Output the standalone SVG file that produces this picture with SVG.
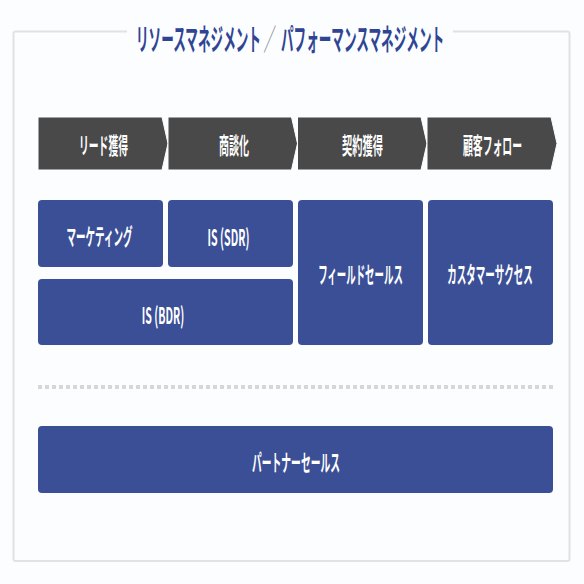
<svg xmlns="http://www.w3.org/2000/svg" width="584" height="584" viewBox="0 0 584 584">
  <style>
    .bg { fill: #fcfdff; }
    .frame { fill: none; stroke: #e1e2e5; stroke-width: 2; }
    .title { font-family: "Noto Sans CJK JP", "Noto Sans", sans-serif; font-weight: 700; font-size: 30px; fill: #2f4593; dominant-baseline: central; }
    .slash { font-weight: 400; fill: #8a8a8a; }
    .chev { fill: #494949; stroke: #fcfdff; stroke-width: 1; }
    .box { fill: #3b4f96; }
    .lbl { font-family: "Noto Sans CJK JP", "Noto Sans", sans-serif; font-weight: 700; font-size: 23px; fill: #ffffff; text-anchor: middle; dominant-baseline: central; }
    .sep { stroke: #d6d7da; stroke-width: 4; stroke-dasharray: 4 3; fill: none; }
  </style>
  <rect class="bg" x="0" y="0" width="584" height="584"/>

  <g id="frame">
    <path class="frame" d="M127,31.5 H15.5 Q13.5,31.5 13.5,33.5 V559 Q13.5,561 15.5,561 H567.5 Q569.5,561 569.5,559 V33.5 Q569.5,31.5 567.5,31.5 H453"/>
    <text class="title" transform="translate(0,37) scale(0.42,1)" y="0"><tspan x="323.8">リソースマネジメント</tspan><tspan class="slash" x="627.4">／</tspan><tspan x="669">パフォーマンスマネジメント</tspan></text>
  </g>

  <g id="stage-lead">
    <path class="chev" d="M38,117 H162 L168,143.5 L162,170 H38 Z"/>
    <text class="lbl" transform="translate(103.5,144) scale(0.426,1)">リード獲得</text>
  </g>
  <g id="stage-deal">
    <path class="chev" d="M168,117 H291.5 L297.5,143.5 L291.5,170 H168 Z"/>
    <text class="lbl" transform="translate(234,144) scale(0.435,1)">商談化</text>
  </g>
  <g id="stage-contract">
    <path class="chev" d="M297.5,117 H421 L427,143.5 L421,170 H297.5 Z"/>
    <text class="lbl" transform="translate(362.5,144) scale(0.446,1)">契約獲得</text>
  </g>
  <g id="stage-follow">
    <path class="chev" d="M427,117 H551 L557,143.5 L551,170 H427 Z"/>
    <text class="lbl" transform="translate(492.5,144) scale(0.428,1)">顧客フォロー</text>
  </g>

  <g id="marketing">
    <rect class="box" x="38" y="200" width="125" height="67" rx="4"/>
    <text class="lbl" transform="translate(99.5,235) scale(0.416,1)">マーケティング</text>
  </g>
  <g id="is-sdr">
    <rect class="box" x="168" y="200" width="125" height="67" rx="4"/>
    <text class="lbl" transform="translate(228.5,236) scale(0.46,1)">IS (SDR)</text>
  </g>
  <g id="is-bdr">
    <rect class="box" x="38" y="279" width="255" height="66" rx="4"/>
    <text class="lbl" transform="translate(163,314) scale(0.46,1)">IS (BDR)</text>
  </g>
  <g id="field-sales">
    <rect class="box" x="298" y="200" width="125" height="145" rx="4"/>
    <text class="lbl" transform="translate(360.5,273) scale(0.41,1)">フィールドセールス</text>
  </g>
  <g id="customer-success">
    <rect class="box" x="428" y="200" width="125" height="145" rx="4"/>
    <text class="lbl" transform="translate(490,273) scale(0.415,1)">カスタマーサクセス</text>
  </g>

  <g id="separator">
    <line class="sep" x1="38" y1="387" x2="553" y2="387"/>
  </g>

  <g id="partner-sales">
    <rect class="box" x="38" y="426" width="515" height="67" rx="4"/>
    <text class="lbl" transform="translate(296,461) scale(0.425,1)">パートナーセールス</text>
  </g>

  <g id="connectors"></g>
</svg>
